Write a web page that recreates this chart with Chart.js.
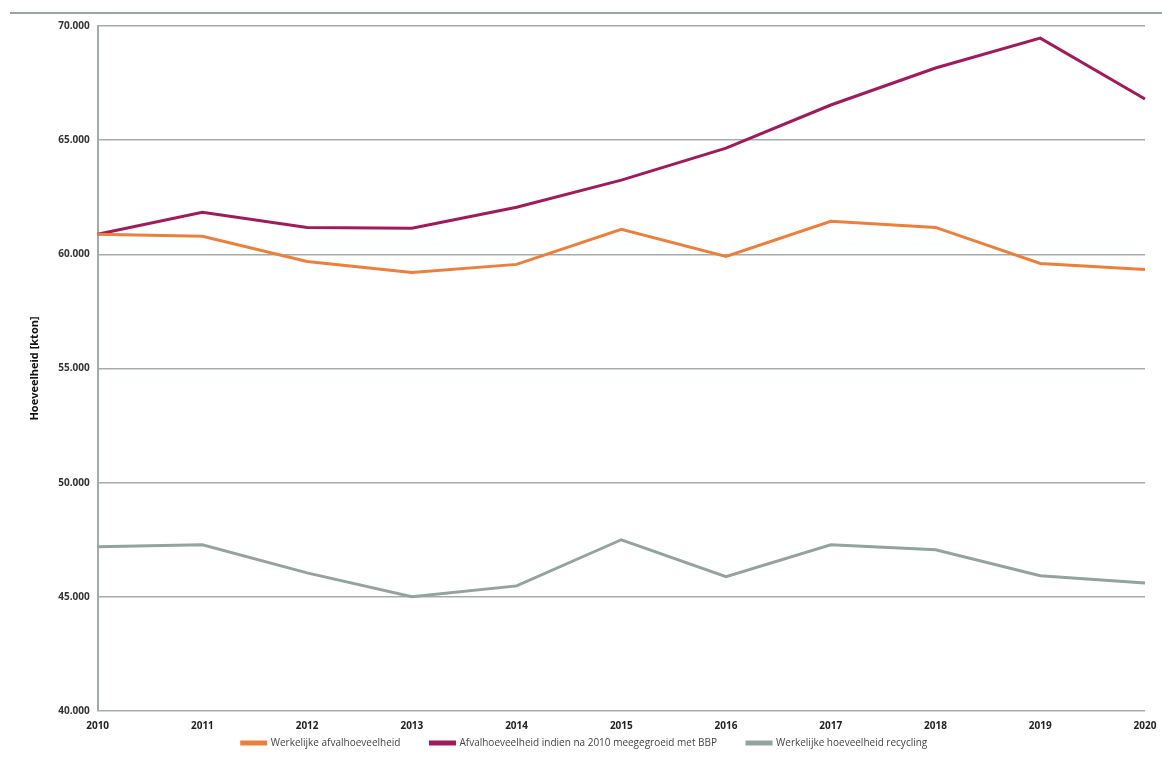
<!DOCTYPE html>
<html>
<head>
<meta charset="utf-8">
<script src="https://cdn.jsdelivr.net/npm/chart.js@4/dist/chart.umd.min.js"></script>
<style>
  html, body { margin: 0; padding: 0; background: #fff; }
  #wrap { position: relative; width: 1162px; height: 767px; }
  #topline { position: absolute; left: 10px; right: 0; top: 12px; height: 2px; background: #9aa3a3; }
  canvas { position: absolute; left: 0; top: 0; }
</style>
</head>
<body>
<div id="wrap">
  <div id="topline"></div>
  <canvas id="lineChart" width="1162" height="767"></canvas>
</div>
<script>
// jaren op de x-as
var jaren = ['2010', '2011', '2012', '2013', '2014', '2015', '2016', '2017', '2018', '2019', '2020'];

// waarden in kton
var werkelijkAfval = [60880, 60790, 59690, 59210, 59560, 61100, 59910, 61450, 61180, 59600, 59340];
var afvalMetBBP = [60880, 61840, 61180, 61140, 62060, 63250, 64650, 66540, 68160, 69470, 66800];
var werkelijkRecycling = [47190, 47280, 46050, 45000, 45480, 47500, 45880, 47280, 47060, 45920, 45610];

var yTicks = [40000, 45000, 50000, 55000, 60000, 65000, 70000];

function fmt(v) {
  // 70000 -> "70.000"
  return String(v).replace(/\B(?=(\d{3})+(?!\d))/g, '.');
}

var ctx = document.getElementById('lineChart');

var data = {
  labels: jaren,
  datasets: [{
    label: 'Werkelijke afvalhoeveelheid',
    data: werkelijkAfval,
    borderColor: '#ec7f3c',
    backgroundColor: '#ec7f3c',
    borderWidth: 3
  }, {
    label: 'Afvalhoeveelheid indien na 2010 meegegroeid met BBP',
    data: afvalMetBBP,
    borderColor: '#a01a5c',
    backgroundColor: '#a01a5c',
    borderWidth: 3
  }, {
    label: 'Werkelijke hoeveelheid recycling',
    data: werkelijkRecycling,
    borderColor: '#94a39d',
    backgroundColor: '#94a39d',
    borderWidth: 3
  }]
};

var options = {
  responsive: false,
  animation: false,
  layout: { padding: { left: 24, right: 17, top: 26, bottom: 9 } },
  elements: { point: { radius: 0 }, line: { tension: 0 } },
  plugins: {
    legend: {
      position: 'bottom',
      labels: {
        boxWidth: 24,
        boxHeight: 2,
        padding: 5,
        color: '#444',
        font: { family: 'Open Sans', size: 10 },
        // extra ruimte tussen de items (padding bepaalt ook de hoogte)
        generateLabels: function (chart) {
          var items = Chart.defaults.plugins.legend.labels.generateLabels(chart);
          items.forEach(function (it, i) {
            if (i < items.length - 1) it.text = it.text + '\u2003\u2003\u2002';
          });
          return items;
        }
      }
    },
    tooltip: { enabled: false }
  },
  scales: {
    x: {
      offset: false,
      grid: { display: false },
      border: { display: false },
      ticks: {
        color: '#222',
        maxRotation: 0,
        padding: 1,
        font: { family: 'Open Sans', size: 10, weight: 'bold' }
      }
    },
    y: {
      min: 40000,
      max: 70000,
      afterBuildTicks: function (axis) {
        axis.ticks = yTicks.map(function (v) { return { value: v }; });
      },
      grid: { color: '#a3abab', lineWidth: 1.5, drawTicks: false },
      border: { display: true, color: '#a3abab', width: 2 },
      title: {
        display: true,
        text: 'Hoeveelheid [kton]',
        color: '#111',
        padding: { bottom: 9 },
        font: { family: 'Open Sans', size: 11, weight: 'bold' }
      },
      ticks: {
        color: '#333',
        padding: 8,
        font: { family: 'Open Sans', size: 10, weight: 'bold' },
        callback: function (v) { return fmt(v); }
      }
    }
  }
};

var myLineChart = new Chart(ctx, {
  type: 'line',
  data: data,
  options: options
});
</script>
</body>
</html>
